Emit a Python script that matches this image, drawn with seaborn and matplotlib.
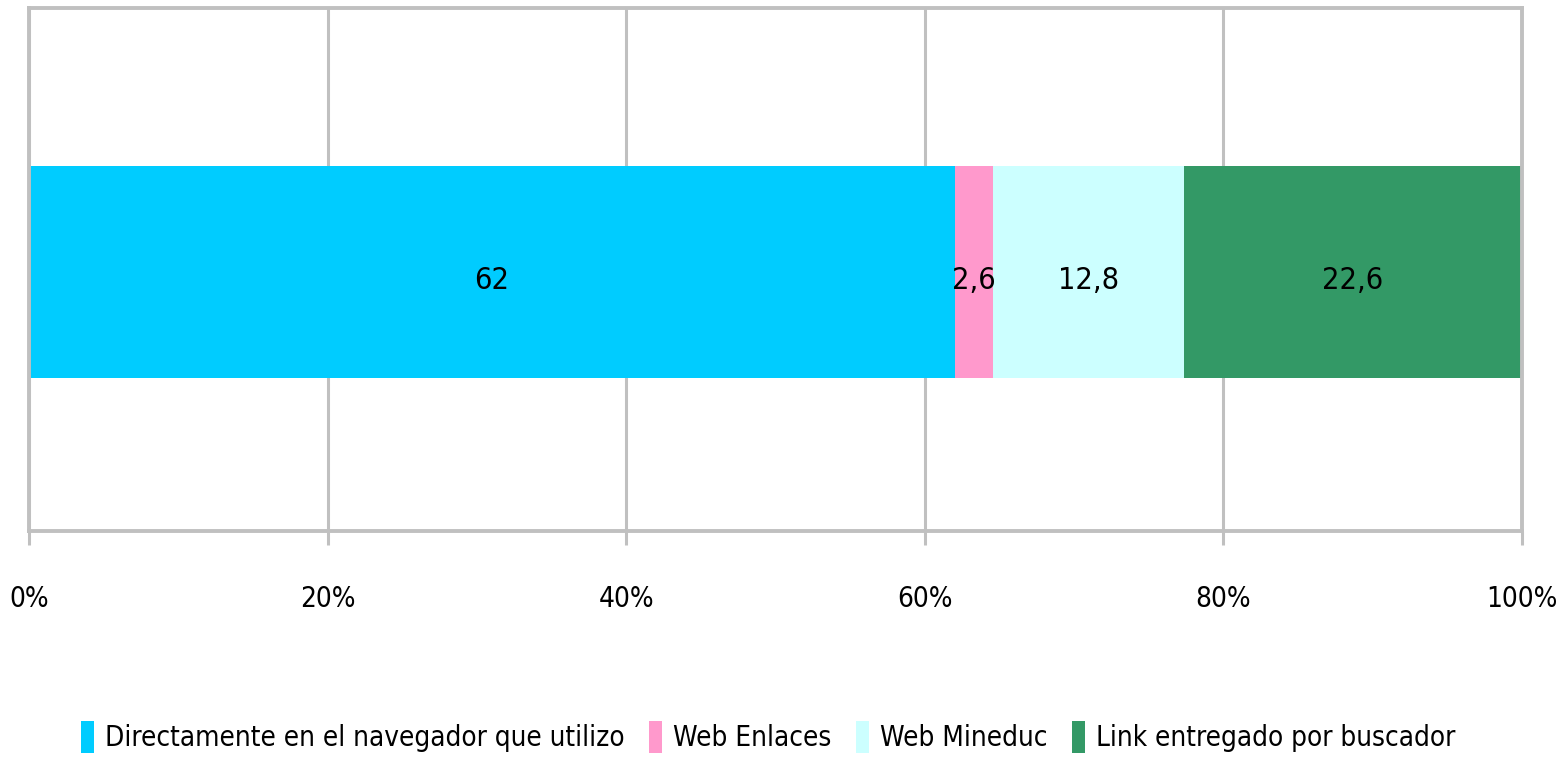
import matplotlib
matplotlib.use("Agg")
import matplotlib.pyplot as plt
from matplotlib.patches import Patch
import seaborn as sns
import numpy as np
import pandas as pd

categories = ["Directamente en el navegador que utilizo", "Web Enlaces", "Web Mineduc", "Link entregado por buscador"]
values = [62, 2.6, 12.8, 22.6]
value_labels = ["62", "2,6", "12,8", "22,6"]
colors = ["#00CCFF", "#FF99CC", "#CCFFFF", "#339966"]
xticks = [0, 20, 40, 60, 80, 100]
xtick_labels = ["0%", "20%", "40%", "60%", "80%", "100%"]

sns.set_theme(style="white")
plt.rcParams['font.family'] = ['DejaVu Sans']
plt.rcParams['font.stretch'] = 'condensed'

fig = plt.figure(figsize=(15.68, 7.57), dpi=100)
ax = fig.add_axes([0.0185, 0.2986, 0.952, 0.6908])

cum = np.cumsum(values)
starts = cum - np.array(values)
df = pd.DataFrame({"cat": categories, "end": cum, "row": [""] * len(values)})

# draw from the longest cumulative bar to the shortest so that each segment shows
for i in reversed(range(len(values))):
    sns.barplot(data=df.iloc[[i]], x="end", y="row", orient="h", color=colors[i],
                width=0.4, ax=ax, saturation=1, linewidth=0, zorder=2)

for s, v, lab in zip(starts, values, value_labels):
    ax.text(s + v / 2, 0.015, lab, ha="center", va="center", fontsize=22, color="black", zorder=3)

ax.set_xlim(0, 100)
ax.set_ylim(0.49, -0.5)
ax.set_xticks(xticks)
ax.set_xticklabels(xtick_labels, fontsize=20, color="black")
ax.set_yticks([])
ax.set_xlabel("")
ax.set_ylabel("")

grid_c = "#C0C0C0"
ax.grid(axis="x", color=grid_c, linewidth=2.2, zorder=0)
ax.set_axisbelow(True)
for side in ["top", "bottom", "left", "right"]:
    ax.spines[side].set_visible(True)
    ax.spines[side].set_color(grid_c)
    ax.spines[side].set_linewidth(2.8)
ax.tick_params(axis="x", direction="out", length=10, width=2.2, color=grid_c,
               pad=29, bottom=True)

handles = [Patch(facecolor=c, edgecolor="none", label=l) for c, l in zip(colors, categories)]
fig.legend(handles=handles, loc="center", bbox_to_anchor=(0.49, 0.027), ncol=4,
           frameon=False, fontsize=20, handlelength=0.45, handleheight=1.4,
           handletextpad=0.4, columnspacing=0.9, labelcolor="black")

fig.savefig("out.png", dpi=100)
